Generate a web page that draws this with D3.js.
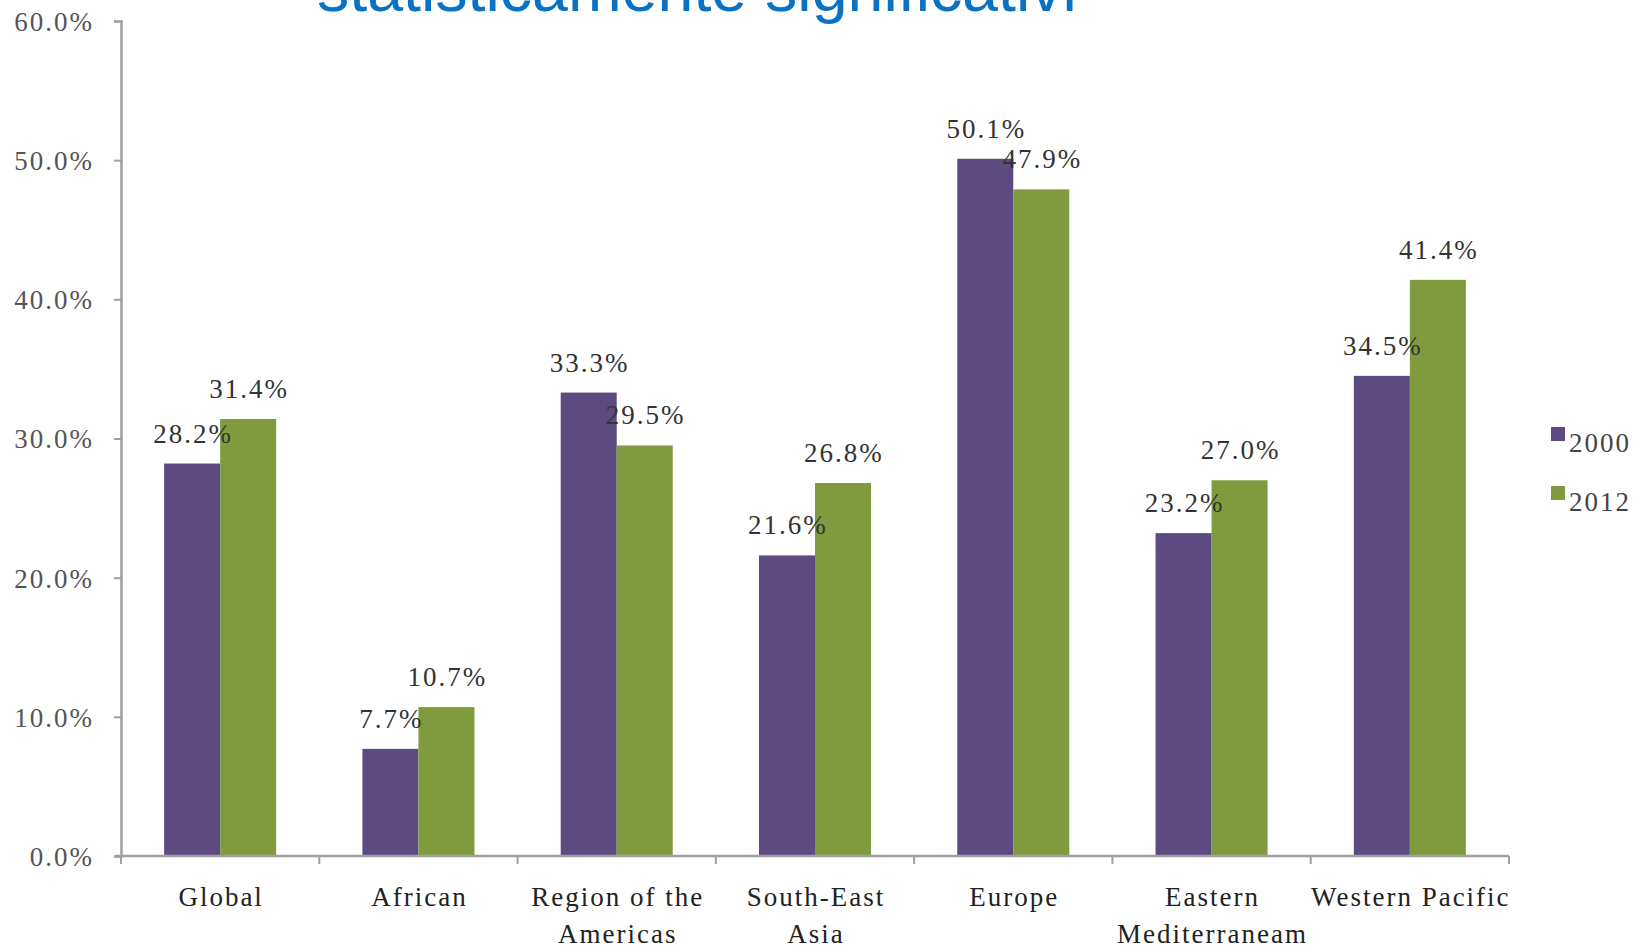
<!DOCTYPE html>
<html><head><meta charset="utf-8">
<script src="https://cdn.jsdelivr.net/npm/d3@7/dist/d3.min.js"></script>
<style>body{margin:0;background:#fff;overflow:hidden}</style>
</head><body>
<svg id="c" width="1647" height="945"></svg>
<script>
const categories = ["Global","African","Region of the Americas","South-East Asia","Europe","Eastern Mediterraneam","Western Pacific"];
const labelLines = [["Global"],["African"],["Region of the","Americas"],["South-East","Asia"],["Europe"],["Eastern","Mediterraneam"],["Western Pacific"]];
const seriesNames = ["2000","2012"];
const values2000 = [28.2,7.7,33.3,21.6,50.1,23.2,34.5];
const values2012 = [31.4,10.7,29.5,26.8,47.9,27.0,41.4];
const yTicks = [0,10,20,30,40,50,60];
const colors = ["#5C4A80","#7F9B3E"];
const titleText = "statisticamente significativi";

const svg = d3.select("#c");
const serif = "'Liberation Serif','Times New Roman',serif";
const LS = "2px";

const x0 = d3.scaleBand().domain(categories).range([121,1509]).paddingInner(0).paddingOuter(0);
const x1 = d3.scaleBand().domain(seriesNames).range([0,x0.bandwidth()]).paddingInner(0).paddingOuter(0.77);
const y = d3.scaleLinear().domain([0,60]).range([856,21]);
const color = d3.scaleOrdinal().domain(seriesNames).range(colors);

// title
svg.append("text").attr("x",317).attr("y",11)
  .attr("font-family","'Liberation Sans',Arial,sans-serif").attr("font-size",64.5)
  .attr("fill","#0A72C4").text(titleText);

// y axis
const yAxis = d3.axisLeft(y).tickValues(yTicks).tickFormat(d=>d.toFixed(1)+"%").tickSize(7).tickPadding(20);
const gy = svg.append("g").attr("transform","translate(121,0)").call(yAxis);
gy.select(".domain").attr("stroke","#a0a0a0").attr("stroke-width",2.5);
gy.selectAll(".tick line").attr("stroke","#a0a0a0").attr("stroke-width",2);
gy.selectAll(".tick text").attr("font-family",serif).attr("font-size",27).attr("fill","#555")
  .attr("dy","0.35em").style("letter-spacing",LS);

// data
const data = categories.map((c,i)=>({cat:c, vals:[{s:"2000",v:values2000[i]},{s:"2012",v:values2012[i]}]}));

const groups = svg.append("g").selectAll("g").data(data).join("g")
  .attr("transform",d=>`translate(${x0(d.cat)},0)`);
groups.selectAll("rect").data(d=>d.vals).join("rect")
  .attr("x",d=>x1(d.s)).attr("width",x1.bandwidth())
  .attr("y",d=>y(d.v)).attr("height",d=>y(0)-y(d.v))
  .attr("fill",d=>color(d.s));

// x axis
const xAxisG = svg.append("g");
xAxisG.append("line").attr("x1",116).attr("x2",x0.range()[1]).attr("y1",y(0)).attr("y2",y(0))
  .attr("stroke","#a0a0a0").attr("stroke-width",2.5);
const bounds = categories.map(c=>x0(c)).concat([x0.range()[1]]);
xAxisG.selectAll("line.t").data(bounds).join("line").attr("class","t")
  .attr("x1",d=>d).attr("x2",d=>d).attr("y1",y(0)).attr("y2",y(0)+8)
  .attr("stroke","#a0a0a0").attr("stroke-width",2);

// x labels
const xl = svg.append("g").selectAll("text").data(categories).join("text")
  .attr("y",906)
  .attr("text-anchor","middle").attr("font-family",serif).attr("font-size",27).attr("fill","#222")
  .style("letter-spacing",LS);
xl.each(function(d,i){
  const t=d3.select(this);
  labelLines[i].forEach((ln,j)=>t.append("tspan").attr("x",x0(d)+x0.bandwidth()/2+1).attr("dy",j===0?0:37).text(ln));
});

// data labels
groups.selectAll("text.v").data(d=>d.vals).join("text").attr("class","v")
  .attr("x",d=>x1(d.s)+x1.bandwidth()/2+1).attr("y",d=>y(d.v)-21)
  .attr("text-anchor","middle").attr("font-family",serif).attr("font-size",27).attr("fill","#333")
  .style("letter-spacing",LS)
  .text(d=>d.v.toFixed(1)+"%");

// legend
const lg = svg.append("g").selectAll("g").data(seriesNames).join("g")
  .attr("transform",(d,i)=>`translate(1551,${427+i*59})`);
lg.append("rect").attr("width",14).attr("height",14).attr("fill",d=>color(d));
lg.append("text").attr("x",18).attr("y",25).attr("font-family",serif).attr("font-size",27)
  .attr("fill","#444").style("letter-spacing",LS).text(d=>d);
</script>
</body></html>
